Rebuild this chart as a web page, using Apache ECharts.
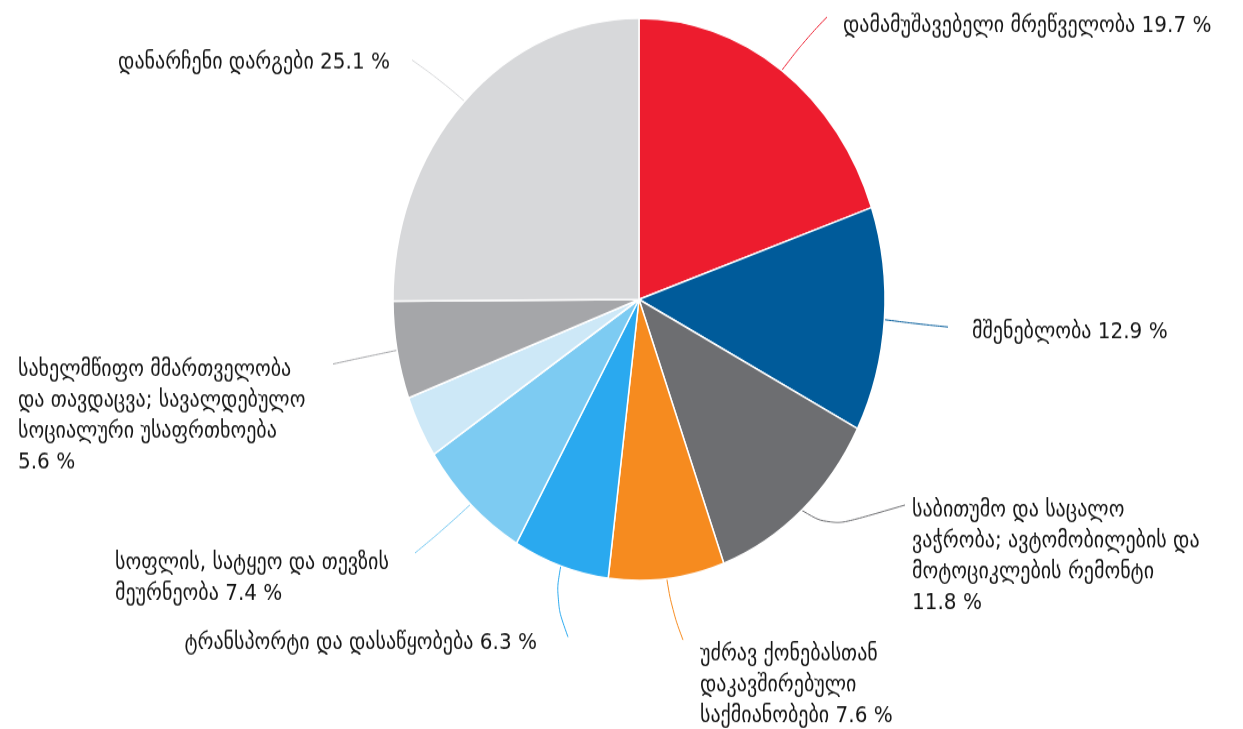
<!DOCTYPE html>
<html>
<head>
<meta charset="utf-8">
<script src="https://cdn.jsdelivr.net/npm/echarts@6/dist/echarts.min.js"></script>
<style>
  html, body { margin: 0; padding: 0; background: #fff; width: 1243px; height: 729px; overflow: hidden; }
  #wrap { width: 1243px; height: 729px; overflow: hidden; }
  /* the reference pie is stretched vertically, so the chart is drawn round and scaled */
  #chart { width: 1243px; height: 638px; transform: scaleY(1.1426); transform-origin: 0 0; }
</style>
</head>
<body>
<div id="wrap"><div id="chart"></div></div>
<script>
const SY = 1.1426;

const categories = [
  'დამამუშავებელი მრეწველობა',
  'მშენებლობა',
  'საბითუმო და საცალო\nვაჭრობა; ავტომობილების და\nმოტოციკლების რემონტი\n',
  'უძრავ ქონებასთან\nდაკავშირებული\nსაქმიანობები',
  'ტრანსპორტი და დასაწყობება',
  'სოფლის, სატყეო და თევზის\nმეურნეობა',
  'სხვა',
  'სახელმწიფო მმართველობა\nდა თავდაცვა; სავალდებულო\nსოციალური უსაფრთხოება\n',
  'დანარჩენი დარგები'
];
const values = [19.7, 12.9, 11.8, 7.6, 6.3, 7.4, 3.6, 5.6, 25.1];
const colors = ['#ED1C2E', '#005B9A', '#6D6E71', '#F68B1F', '#2AA9EF', '#7DCBF2', '#CDE8F7', '#A5A6A9', '#D7D8DA'];

// label placement in reference pixels: text anchor, line bend, line end
const labelPos = [
  { x: 843, y: 11, align: 'left', mid: [805, 40], end: [827, 17] },
  { x: 972, y: 317, align: 'left', mid: [918, 324], end: [948, 327] },
  { x: 912, y: 495, align: 'left', mid: [830, 527], end: [905, 505] },
  { x: 700, y: 639, align: 'left', mid: [672, 610], end: [683, 640] },
  { x: 537, y: 628, align: 'right', mid: [555, 600], end: [568, 637] },
  { x: 115, y: 548, align: 'left', mid: [445, 528], end: [415, 553] },
  null,
  { x: 18, y: 354, align: 'left', mid: [365, 357], end: [333, 364] },
  { x: 390, y: 47, align: 'right', mid: [440, 80], end: [412, 60] }
];

const chart = echarts.init(document.getElementById('chart'));

const data = categories.map((name, i) => ({
  name: name,
  value: values[i],
  itemStyle: { color: colors[i] },
  label: { show: labelPos[i] !== null },
  labelLine: { show: labelPos[i] !== null }
}));

chart.setOption({
  animation: false,
  series: [
    {
      type: 'pie',
      center: [639, 262],
      radius: 246,
      startAngle: 90,
      clockwise: true,
      avoidLabelOverlap: false,
      itemStyle: { borderColor: '#fff', borderWidth: 1.5 },
      label: {
        formatter: p => p.name + (p.name.endsWith('\n') ? '' : ' ') + p.value.toFixed(1) + ' %',
        fontFamily: 'DejaVu Sans',
        fontSize: 20,
        lineHeight: 27,
        color: '#151515'
      },
      labelLine: { length: 20, length2: 20, smooth: 0.4, lineStyle: { width: 1 } },
      labelLayout: function (params) {
        const p = labelPos[params.dataIndex];
        if (!p || !params.labelLinePoints) return;
        return {
          x: p.x,
          y: p.y / SY,
          align: p.align,
          verticalAlign: 'top',
          labelLinePoints: [
            params.labelLinePoints[0],
            [p.mid[0], p.mid[1] / SY],
            [p.end[0], p.end[1] / SY]
          ]
        };
      },
      data: data
    }
  ]
});
</script>
</body>
</html>
